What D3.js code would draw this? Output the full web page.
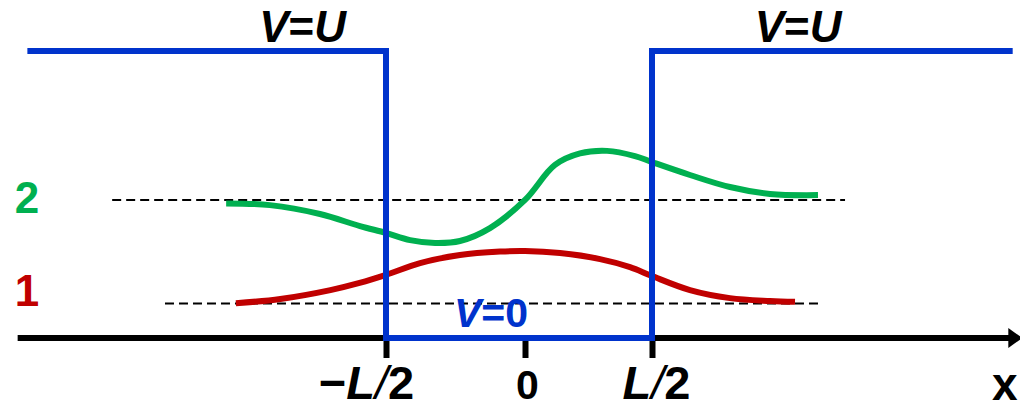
<!DOCTYPE html>
<html>
<head>
<meta charset="utf-8">
<script src="https://cdn.jsdelivr.net/npm/d3@7"></script>
<style>
  body { margin: 0; background: #fff; }
  text { font-family: "Liberation Sans", Arial, sans-serif; font-weight: bold; }
</style>
</head>
<body>
<svg width="1020" height="410"></svg>
<script>
// x in units of L/2 (well edges at -1 and +1), y in units of the barrier height U
var tickValues = [-1, 0, 1];
var tickLabels = ["−L/2", "0", "L/2"];
var U = 1;
var levels = [0.12, 0.481];           // E1, E2
var levelNames = ["1", "2"];
var levelSpans = [[-2.59, 2.32], [-2.97, 2.52]];

// psi_1 (red) drawn on level 1
var psi1X = [-2.08, -1.76, -1.40, -1.19, -1.0, -0.755, -0.468, -0.18, 0, 0.276, 0.591, 0.827, 1.0, 1.299, 1.614, 1.929, 2.126];
var psi1Y = [0.121, 0.136, 0.167, 0.192, 0.220, 0.261, 0.289, 0.301, 0.303, 0.296, 0.275, 0.247, 0.216, 0.167, 0.139, 0.129, 0.126];

// psi_2 (green) drawn on level 2
var psi2X = [-2.15, -1.835, -1.475, -1.187, -1.0, -0.827, -0.647, -0.468, -0.252, 0, 0.236, 0.433, 0.646, 0.866, 1.0, 1.299, 1.614, 1.929, 2.307];
var psi2Y = [0.469, 0.463, 0.432, 0.390, 0.366, 0.341, 0.331, 0.338, 0.383, 0.481, 0.603, 0.643, 0.652, 0.634, 0.613, 0.568, 0.526, 0.502, 0.498];

var axisExtent = [-3.65, 3.9];
var wallExtent = [-3.58, 3.84];

var blue = "#0033cc", green = "#00b050", red = "#c00000";

var svg = d3.select("svg");

var x = d3.scaleLinear().domain([-1, 0, 1]).range([386, 525, 652]),
  y = d3.scaleLinear().domain([0, U]).range([338, 51]);

var line = d3.line()
  .x(d => x(d[0]))
  .y(d => y(d[1]));

var smooth = d3.line()
  .x(d => x(d[0]))
  .y(d => y(d[1]))
  .curve(d3.curveCatmullRom.alpha(0.5));

// energy levels
svg.selectAll(".level")
  .data(levels)
  .enter().append("line")
  .attr("class", "level")
  .attr("x1", (d, i) => x(levelSpans[i][0]))
  .attr("x2", (d, i) => x(levelSpans[i][1]))
  .attr("y1", d => y(d))
  .attr("y2", d => y(d))
  .attr("stroke", "#000")
  .attr("stroke-width", 2)
  .attr("stroke-dasharray", "9,5");

// wavefunctions
var waves = [
  { xs: psi1X, ys: psi1Y, color: red },
  { xs: psi2X, ys: psi2Y, color: green }
];
svg.selectAll(".wave")
  .data(waves)
  .enter().append("path")
  .attr("class", "wave")
  .attr("d", w => smooth(w.xs.map((v, i) => [v, w.ys[i]])))
  .attr("fill", "none")
  .attr("stroke", w => w.color)
  .attr("stroke-width", 6);

// x axis
svg.append("line")
  .attr("x1", x(axisExtent[0]))
  .attr("x2", x(axisExtent[1]) - 10)
  .attr("y1", y(0))
  .attr("y2", y(0))
  .attr("stroke", "#000")
  .attr("stroke-width", 6);

var tip = x(axisExtent[1]) + 2;
svg.append("path")
  .attr("d", `M${tip},${y(0)}L${tip - 14},${y(0) - 10}L${tip - 14},${y(0) + 10}Z`)
  .attr("fill", "#000");

var xAxis = svg.append("g")
  .attr("transform", `translate(0,${y(0)})`)
  .call(d3.axisBottom(x).tickValues(tickValues).tickSize(20).tickFormat(""));
xAxis.select(".domain").remove();
xAxis.selectAll(".tick line").attr("stroke", "#000").attr("stroke-width", 6);

var labelDx = { "−L/2": -20, "0": 2, "L/2": 4 };
xAxis.selectAll(".tick text").remove();
xAxis.selectAll(".tick").each(function (d, i) {
  var lab = tickLabels[i];
  var t = d3.select(this).append("text")
    .attr("x", labelDx[lab])
    .attr("y", 61)
    .attr("fill", "#000")
    .attr("text-anchor", "middle")
    .style("font-size", lab === "0" ? "41px" : "47px");
  if (lab === "0") { t.text(lab); return; }
  if (lab[0] === "−") t.append("tspan").text("−");
  t.append("tspan").style("font-style", "italic").text("L");
  t.append("tspan").style("font-style", "italic").style("font-weight", "normal").text("/");
  t.append("tspan").text("2");
});

svg.append("text")
  .attr("x", 992)
  .attr("y", 400)
  .style("font-size", "46px")
  .text("x");

// potential V(x)
var well = [[wallExtent[0], U], [-1, U], [-1, 0], [1, 0], [1, U], [wallExtent[1], U]];
svg.append("path")
  .attr("d", line(well))
  .attr("fill", "none")
  .attr("stroke", blue)
  .attr("stroke-width", 6)
  .attr("stroke-linejoin", "miter");

// labels
[-1.6, 2.15].forEach(function (xv) {
  var t = svg.append("text")
    .attr("x", x(xv))
    .attr("y", y(U) - 9)
    .attr("text-anchor", "middle")
    .style("font-size", "44px");
  t.append("tspan").style("font-style", "italic").text("V");
  t.append("tspan").text("=");
  t.append("tspan").style("font-style", "italic").text("U");
});

var v0 = svg.append("text")
  .attr("x", x(-0.245))
  .attr("y", y(0) - 11)
  .attr("text-anchor", "middle")
  .attr("fill", blue)
  .style("font-size", "41px");
v0.append("tspan").style("font-style", "italic").text("V");
v0.append("tspan").text("=0");

var labelDy = [2, 13];
svg.selectAll(".lname")
  .data(levels)
  .enter().append("text")
  .attr("class", "lname")
  .attr("x", 27)
  .attr("y", (d, i) => y(d) + labelDy[i])
  .attr("text-anchor", "middle")
  .attr("fill", (d, i) => i === 0 ? red : green)
  .style("font-size", "44px")
  .text((d, i) => levelNames[i]);
</script>
</body>
</html>
